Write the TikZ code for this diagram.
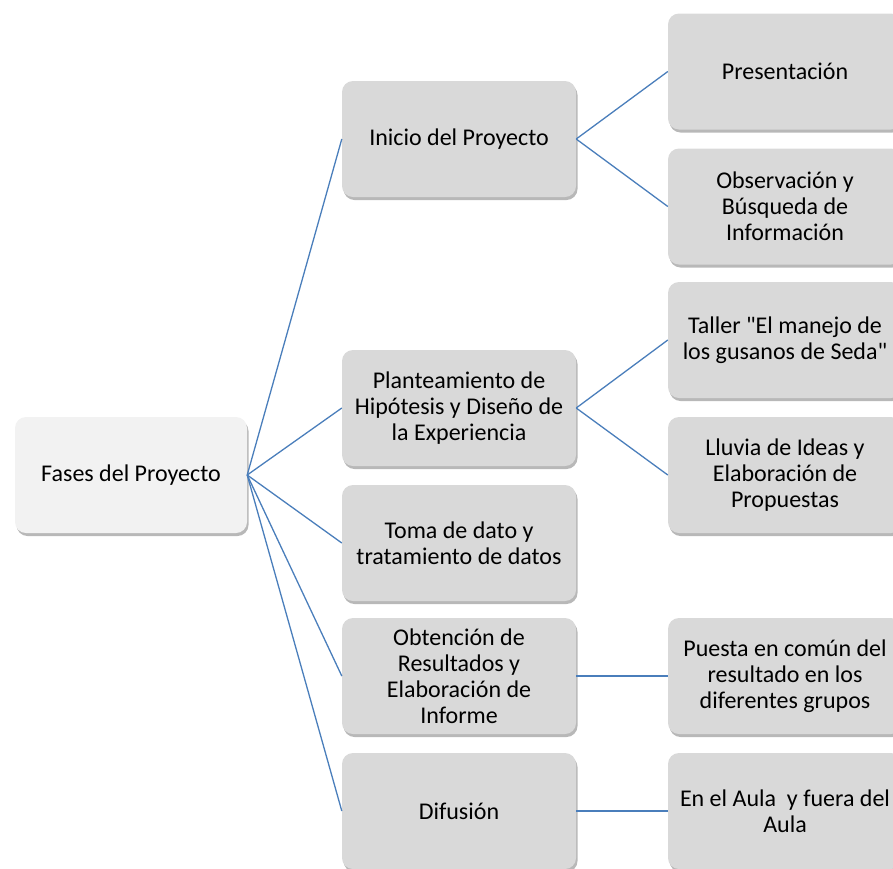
\documentclass[tikz,border=0pt]{standalone}
\usepackage{fontspec}
\setmainfont{Carlito}
\usetikzlibrary{shadows}
\newcommand\straightdq{\XeTeXglyph\XeTeXcharglyph"22\relax}
\definecolor{boxgray}{RGB}{217,217,217}
\definecolor{rootgray}{RGB}{242,242,242}
\definecolor{linkblue}{RGB}{74,126,187}
\tikzset{
  box/.style={rectangle, rounded corners=11pt, fill=boxgray, minimum width=234pt, minimum height=116pt,
    align=center, inner sep=2pt, font=\fontsize{24}{26}\selectfont,
    drop shadow={fill=black, opacity=0.28, shadow xshift=1.5pt, shadow yshift=-3pt}},
  rootbox/.style={box, fill=rootgray, minimum width=232pt},
  link/.style={draw=linkblue, line width=1.3pt}
}
\begin{document}
\begin{tikzpicture}[x=1pt,y=-1pt]
\clip (0,0) rectangle (893,868);
\useasboundingbox (0,0) rectangle (893,868);
\node[rootbox] (root) at (131,475) {Fases del Proyecto};
\node[box] (inicio) at (459,139) {Inicio del Proyecto};
\node[box] (plant) at (459,408) {Planteamiento de\\Hipótesis y Diseño de\\la Experiencia};
\node[box] (toma) at (459,543) {Toma de dato y\\tratamiento de datos};
\node[box] (obt) at (459,676) {Obtención de\\Resultados y\\Elaboración de\\Informe};
\node[box] (dif) at (459,811) {Difusión};
\node[box] (pres) at (785,71.5) {Presentación};
\node[box] (obs) at (785,206.5) {Observación y\\Búsqueda de\\Información};
\node[box] (taller) at (785,340) {Taller \straightdq El manejo de\\los gusanos de Seda\straightdq};
\node[box] (lluvia) at (785,475) {Lluvia de Ideas y\\Elaboración de\\Propuestas};
\node[box] (puesta) at (785,676) {Puesta en común del\\resultado en los\\diferentes grupos};
\node[box] (aula) at (785,811) {En el Aula\ \ y fuera del\\Aula};
\foreach \t in {inicio,plant,toma,obt,dif}
  \draw[link] (root.east) -- (\t.west);
\draw[link] (inicio.east) -- (pres.west);
\draw[link] (inicio.east) -- (obs.west);
\draw[link] (plant.east) -- (taller.west);
\draw[link] (plant.east) -- (lluvia.west);
\draw[link] (obt.east) -- (puesta.west);
\draw[link] (dif.east) -- (aula.west);
\end{tikzpicture}
\end{document}
